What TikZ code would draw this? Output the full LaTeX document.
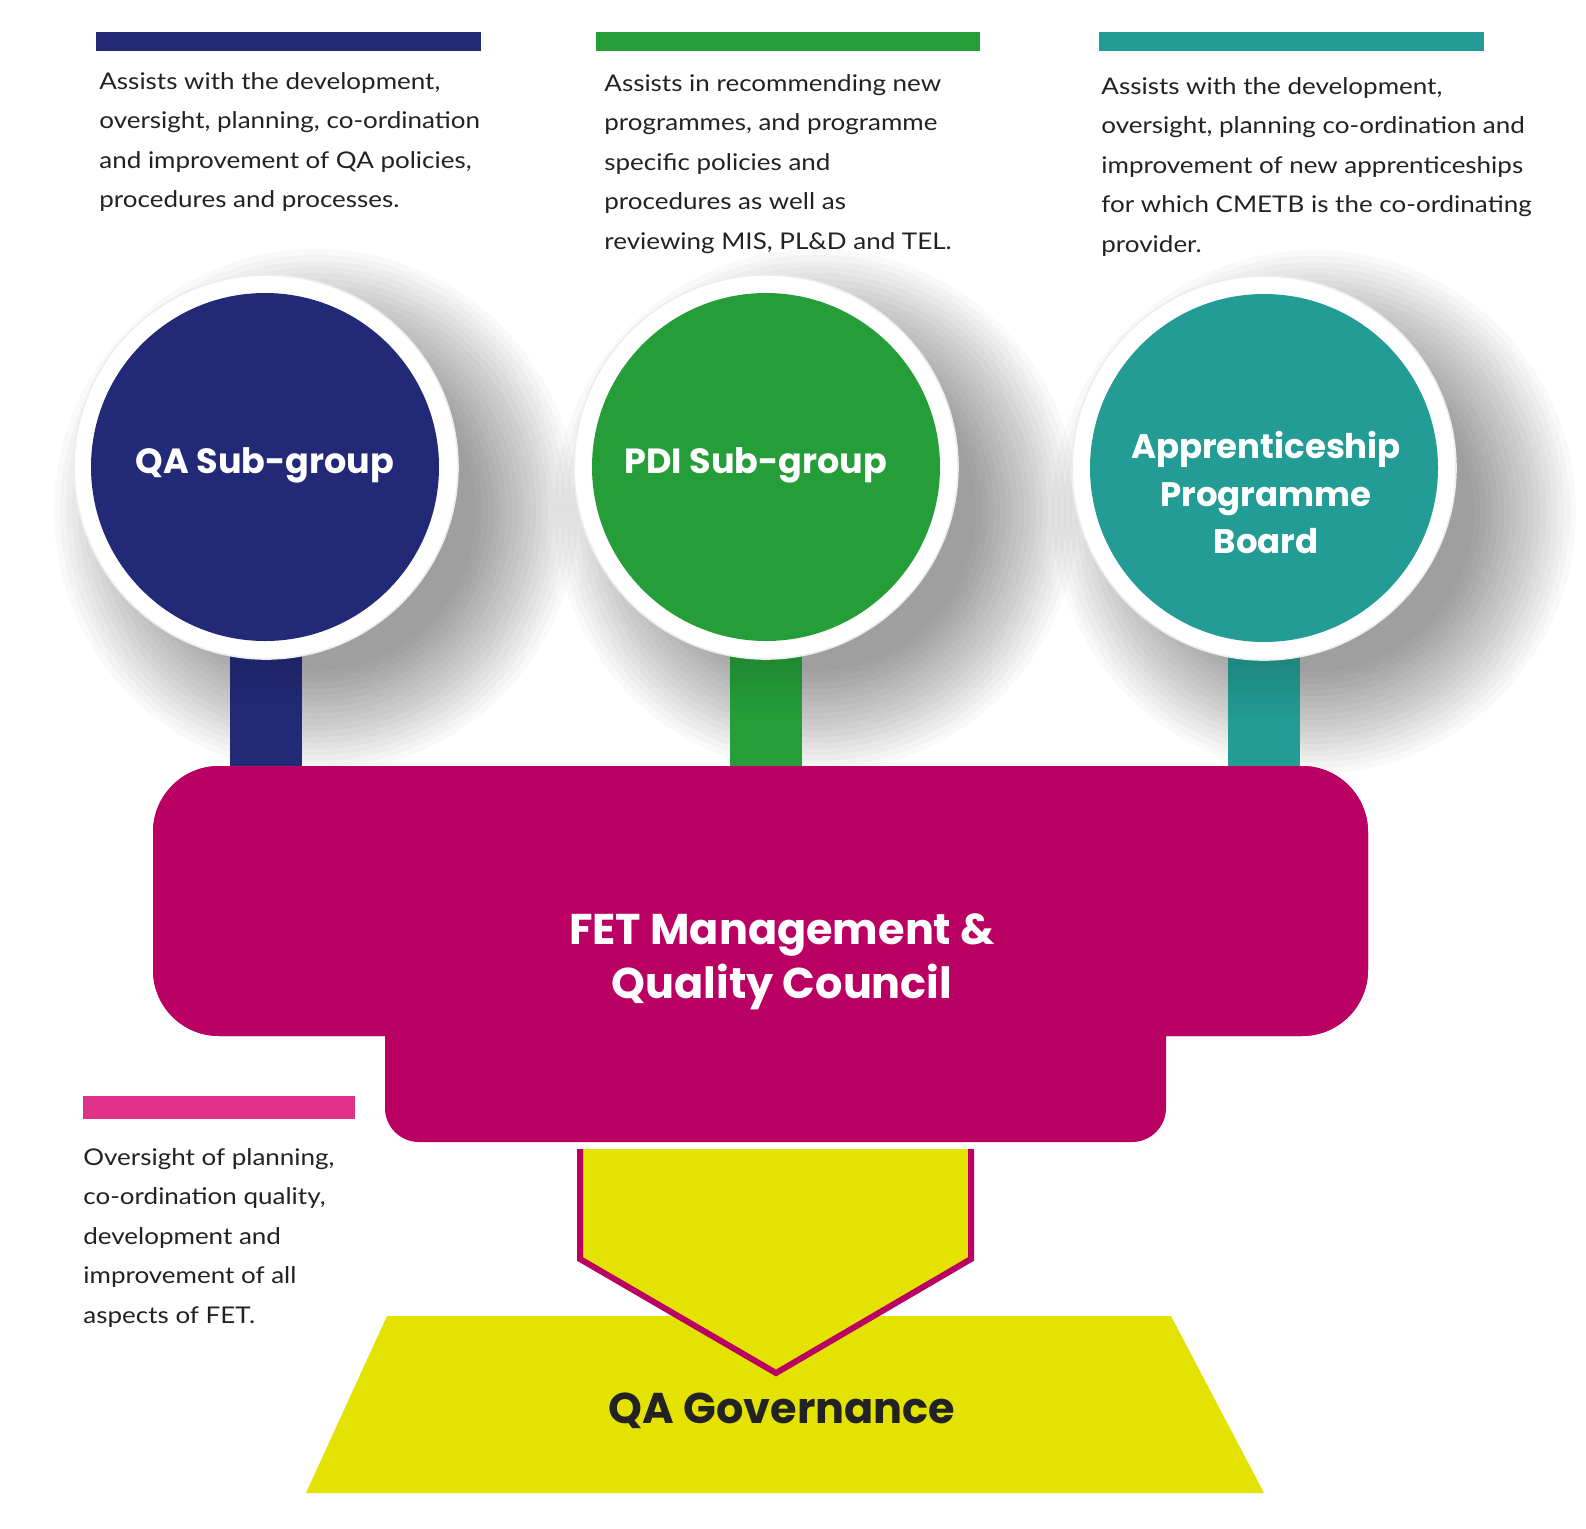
\documentclass[tikz,border=0pt]{standalone}
\usepackage{fontspec}
\setmainfont{Lato}
\newfontfamily\descfont{Lato}[FakeStretch=1.13]
\newfontfamily\headfont{Poppins}
\usetikzlibrary{calc,fadings}
\definecolor{navy}{HTML}{222A78}
\definecolor{grn}{HTML}{259E3A}
\definecolor{teal2}{HTML}{229C94}
\definecolor{mag}{HTML}{BA0062}
\definecolor{pinkbar}{HTML}{E0308A}
\definecolor{yel}{HTML}{E3E200}
\definecolor{txt}{HTML}{222222}
\tikzset{
  desc/.style={anchor=base west, inner sep=0pt, align=left, text=txt,
    font=\descfont\fontsize{11.5}{19.75}\selectfont},
  ring/.style={circle, fill=white, draw=black!7, line width=0.8pt, minimum size=192pt, inner sep=0pt},
  disc/.style={circle, minimum size=174pt, inner sep=0pt},
  head/.style={text=white, align=center, inner sep=0pt,
    font=\headfont\bfseries\fontsize{17.5}{24}\selectfont},
  stem/.style={line width=36pt},
}
\begin{document}
\begin{tikzpicture}[x=0.5pt,y=-0.5pt]
\fill[white] (0,0) rectangle (1586,1528);
\useasboundingbox (0,0) rectangle (1586,1528);

% top bars and descriptions
\fill[navy] (96,32) rectangle (481,51);
\fill[grn] (596,32) rectangle (980,51);
\fill[teal2] (1099,32) rectangle (1484,51);
\fill[pinkbar] (83,1096) rectangle (355,1119);

% base anchor = last line baseline
\node[desc] (d1) at (99,207.5) {Assists with the development,\\oversight, planning, co-ordination\\and improvement of QA policies,\\procedures and processes.};
\node[desc] (d2) at (604,249) {Assists in recommending new\\programmes, and programme\\specific policies and\\procedures as well as\\reviewing MIS, PL\&D and TEL.};
\node[desc] (d3) at (1101,252) {Assists with the development,\\oversight, planning co-ordination and\\improvement of new apprenticeships\\for which CMETB is the co-ordinating\\provider.};
\node[desc] (d4) at (83,1323) {Oversight of planning,\\co-ordination quality,\\development and\\improvement of all\\aspects of FET.};

% council box (top part)
\node[rectangle, rounded corners=33pt, fill=mag, minimum width=607.5pt, minimum height=135pt, inner sep=0pt] (council) at (760.5,901) {};

% ring positions
\node[ring, draw=none, fill=none] (r1) at (266,467) {};
\node[ring, draw=none, fill=none] (r2) at (766,467) {};
\node[ring, draw=none, fill=none] (r3) at (1264,468) {};

% shadows
\foreach \cx/\cy in {266/467, 766/467, 1264/468}{
  \foreach \k in {1,...,18}{
    \fill[black, opacity=0.022] (\cx+50,\cy+44) circle[radius={(192+76-\k*6)*0.5pt}];
  }
}

% stems
\draw[stem, navy] (r1.center) -- (r1.center |- council.north);
\draw[stem, grn] (r2.center) -- (r2.center |- council.north);
\draw[stem, teal2] (r3.center) -- (r3.center |- council.north);
\foreach \n in {r1,r2,r3}{
  \fill[black, opacity=0.15, path fading=south] ($(\n.center)+(-36,185)$) rectangle ($(\n.center)+(36,250)$);
}

% rings + discs
\node[ring] (w1) at (266,467) {};
\node[ring] (w2) at (766,467) {};
\node[ring] (w3) at (1264,468) {};
\node[disc, fill=navy] (qa) at (265,467) {};
\node[disc, fill=grn] (pdi) at (766,467) {};
\node[disc, fill=teal2] (app) at (1264,468) {};

\node[head] (qat) at (265,465) {QA Sub-group};
\node[head] (pdit) at (756,465) {PDI Sub-group};
\node[head, font=\headfont\bfseries\fontsize{17}{23.75}\selectfont] (appt) at (1266,493) {Apprenticeship\\Programme\\Board};

% council box on top of shadows
\fill[mag, rounded corners=33pt] (153,766) rectangle (1368,1036);
\fill[mag, rounded corners=17pt] (385,990) |- (1166,1142) -- (1166,990) -- cycle;
\node[text=white, align=center, inner sep=0pt, font=\headfont\bfseries\fontsize{21.5}{27}\selectfont] (fet) at (782,962) {FET Management \&\\Quality Council};

% QA governance trapezoid and arrow
\fill[yel] (387,1316) -- (1171,1316) -- (1264,1493) -- (306,1493) -- cycle;
\draw[mag, line width=3pt, fill=yel] (580,1149) -- (580,1259) -- (776,1373) -- (971,1259) -- (971,1149);
\node[text=txt, inner sep=0pt, font=\headfont\bfseries\fontsize{21.5}{27}\selectfont] (govt) at (782,1411) {QA Governance};
\end{tikzpicture}
\end{document}
